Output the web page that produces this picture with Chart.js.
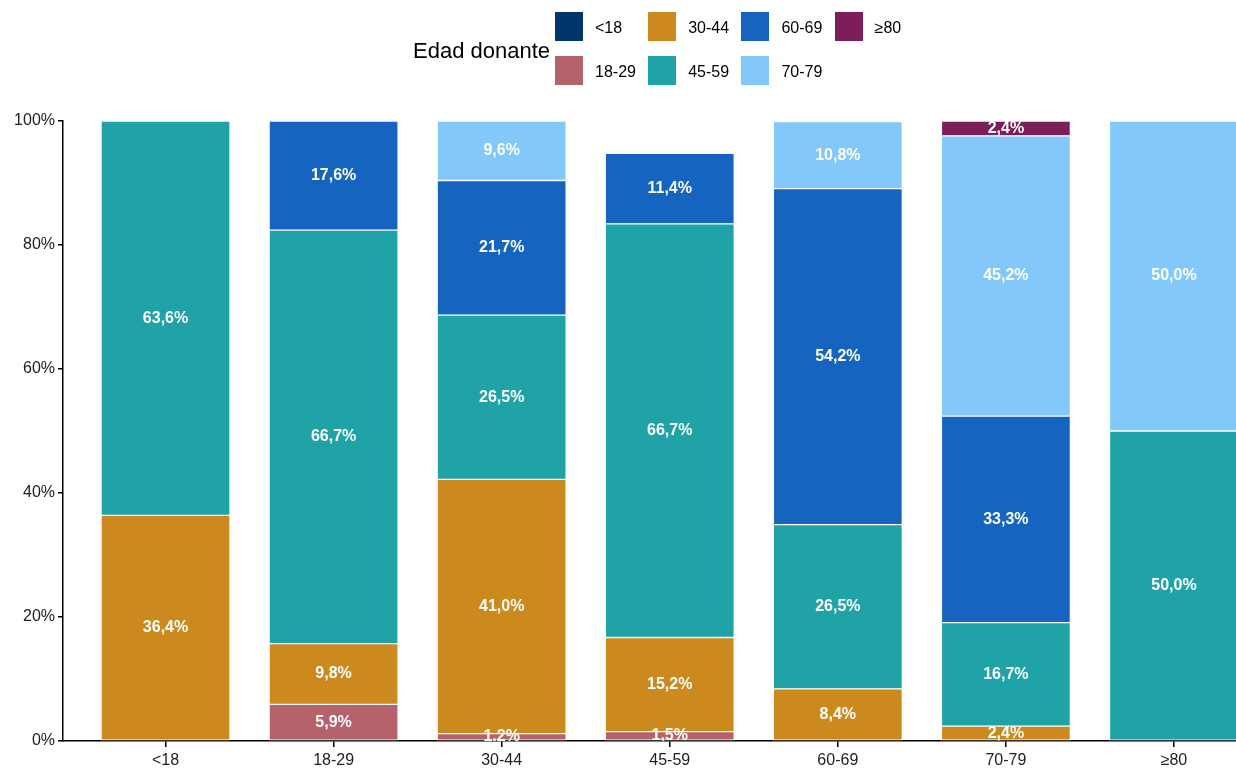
<!DOCTYPE html>
<html><head><meta charset="utf-8">
<script src="https://cdn.jsdelivr.net/npm/chart.js@4"></script>
<style>
html,body{margin:0;padding:0;background:#fff;overflow:hidden;}
#wrap{position:relative;width:1236px;height:769px;}
#c{position:absolute;left:0;top:0;}
#legend{position:absolute;left:0;top:0;width:1236px;height:100px;font-family:"Liberation Sans",Arial,sans-serif;color:#000;}
.lt{position:absolute;left:413px;top:38px;font-size:22px;}
.sw{position:absolute;width:28px;height:29px;}
.ll{position:absolute;font-size:16px;line-height:20px;}
</style></head>
<body><div id="wrap"><canvas id="c" width="1236" height="769"></canvas><div id="legend"></div></div>
<script>
const categories = ["<18","18-29","30-44","45-59","60-69","70-79","≥80"];
const seriesNames = ["<18","18-29","30-44","45-59","60-69","70-79","≥80"];
const seriesColors = ["#01366B","#B5636A","#CC8A1E","#1FA3A6","#1565C0","#82C8FA","#7B1E5A"];
const s_lt18  = [0,0,0,0,0,0,0];
const s_18_29 = [0,5.9,1.2,1.5,0,0,0];
const s_30_44 = [36.4,9.8,41.0,15.2,8.4,2.4,0];
const s_45_59 = [63.6,66.7,26.5,66.7,26.5,16.7,50.0];
const s_60_69 = [0,17.6,21.7,11.4,54.2,33.3,0];
const s_70_79 = [0,0,9.6,0,10.8,45.2,50.0];
const s_ge80  = [0,0,0,0,0,2.4,0];
const seriesValues = [s_lt18,s_18_29,s_30_44,s_45_59,s_60_69,s_70_79,s_ge80];
const yTicks = [0,20,40,60,80,100];

// legend (HTML)
const lg = document.getElementById('legend');
const t = document.createElement('div'); t.className='lt'; t.textContent='Edad donante'; lg.appendChild(t);
seriesNames.forEach((n,i)=>{
  const col = Math.floor(i/2), row = i%2;
  const sx = 555 + col*93.2, sy = 12 + row*44;
  const sw = document.createElement('div'); sw.className='sw';
  sw.style.left = sx+'px'; sw.style.top = sy+'px'; sw.style.background = seriesColors[i];
  lg.appendChild(sw);
  const l = document.createElement('div'); l.className='ll'; l.textContent = n;
  l.style.left = (sx+40)+'px'; l.style.top = (sy+6)+'px';
  lg.appendChild(l);
});

const labelPlugin = {
  id:'segLabels',
  afterDatasetsDraw(chart){
    const ctx = chart.ctx, a = chart.chartArea;
    ctx.save();
    ctx.beginPath(); ctx.rect(a.left,a.top,a.right-a.left,a.bottom-a.top); ctx.clip();
    ctx.font = 'bold 16px "Liberation Sans", Arial, sans-serif';
    ctx.fillStyle = '#fff'; ctx.textAlign='center'; ctx.textBaseline='middle';
    chart.data.datasets.forEach((ds,di)=>{
      const meta = chart.getDatasetMeta(di);
      meta.data.forEach((el,i)=>{
        const v = ds.data[i].y;
        if(!v) return;
        const txt = v.toFixed(1).replace('.',',')+'%';
        ctx.fillText(txt, el.x, (el.y+el.base)/2);
      });
    });
    ctx.restore();
  }
};

new Chart(document.getElementById('c'),{
  type:'bar',
  data:{
    datasets: seriesNames.map((n,si)=>({
      label:n,
      data: seriesValues[si].map((v,i)=>({x:i,y:v})),
      backgroundColor: seriesColors[si],
      borderColor:'rgba(255,255,255,0.85)',
      borderWidth:1,
      borderSkipped:false,
      barThickness:129
    }))
  },
  options:{
    responsive:false, animation:false,
    layout:{padding:{top:121,right:0,bottom:0,left:0}},
    plugins:{legend:{display:false},tooltip:{enabled:false}},
    scales:{
      x:{
        type:'linear', stacked:true, min:-0.61, max:6.369, offset:false, bounds:'data',
        afterBuildTicks(s){ s.ticks = categories.map((c,i)=>({value:i})); },
        afterFit(s){ s.height = 28; },
        ticks:{ callback:(v)=>categories[v] ?? '', font:{size:16,family:'"Liberation Sans", Arial, sans-serif'}, color:'#222', padding:4, maxRotation:0, autoSkip:false },
        grid:{ offset:false, drawOnChartArea:false, drawTicks:true, tickLength:6, color:'#000', lineWidth:1.5 },
        border:{ display:true, color:'#000', width:1.5 }
      },
      y:{
        stacked:true, min:0, max:100,
        afterBuildTicks(s){ s.ticks = yTicks.map(v=>({value:v})); },
        afterFit(s){ s.width = 63; },
        ticks:{ callback:(v)=>v+'%', font:{size:16,family:'"Liberation Sans", Arial, sans-serif'}, color:'#222', padding:3 },
        grid:{ drawOnChartArea:false, drawTicks:true, tickLength:5, color:'#000', lineWidth:1.5 },
        border:{ display:true, color:'#000', width:1.5 }
      }
    }
  },
  plugins:[labelPlugin]
});
</script></body></html>
